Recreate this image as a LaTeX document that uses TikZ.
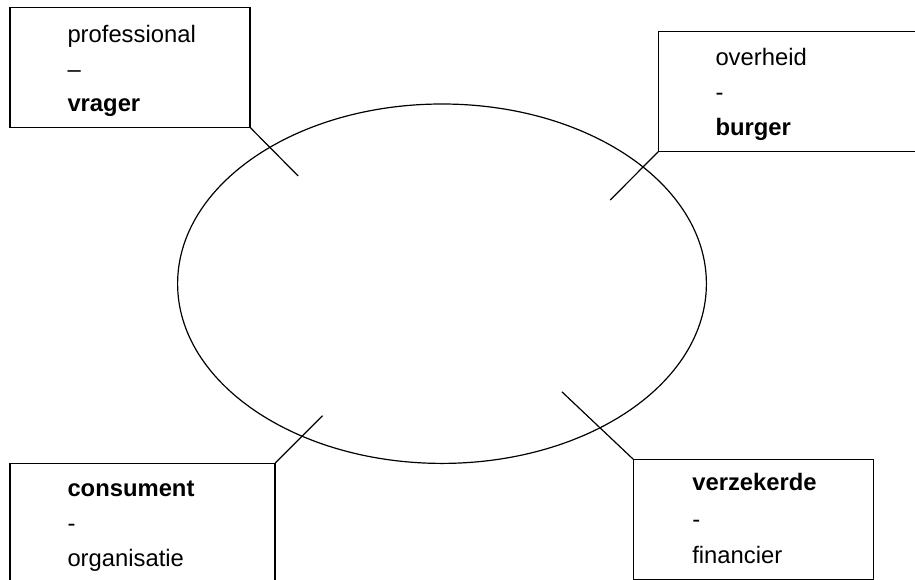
\documentclass[tikz,border=0pt]{standalone}
\usepackage{fontspec}
\setmainfont{Liberation Sans}
\usetikzlibrary{shapes.geometric}
\begin{document}
\begin{tikzpicture}[x=1pt,y=-1pt,
  line width=1.2pt,
  box/.style={draw=black, fill=none, inner sep=0pt, outer sep=0pt, anchor=north west},
  lbl/.style={inner sep=0pt, outer sep=0pt, anchor=base west, font=\fontsize{23.8pt}{35pt}\selectfont},
  blbl/.style={lbl, font=\fontsize{23.8pt}{35pt}\selectfont\bfseries}]
\useasboundingbox (0,0) rectangle (915,579);
\clip (0,0) rectangle (915,579);
\fill[white] (0,0) rectangle (915,579);

% central ellipse
\node[draw=black, ellipse, inner sep=0pt, outer sep=0pt,
      minimum width=528.8pt, minimum height=359.4pt] (c) at (442,283.7) {};

% boxes
\node[box, minimum width=240pt, minimum height=120pt] (b1) at (10,7.3) {};
\node[box, minimum width=272pt, minimum height=120pt] (b2) at (658.3,31.7) {};
\node[box, minimum width=265pt, minimum height=120pt] (b3) at (10,463.3) {};
\node[box, minimum width=240pt, minimum height=120pt] (b4) at (633.3,459.3) {};

% connector free ends
\coordinate (e1) at (298.2,176);
\coordinate (e2) at (610.2,200);
\coordinate (e3) at (322.5,415.7);
\coordinate (e4) at (561.8,391.7);

\draw (b1.south east) -- (e1);
\draw (b2.south west) -- (e2);
\draw (b3.north east) -- (e3);
\draw (b4.north west) -- (e4);

% texts
\node[lbl]  (t1a) at (67.5,42)  {professional};
\node[lbl]  (t1b) at (67.5,77)  {–};
\node[blbl] (t1c) at (67.5,111.7) {vrager};

\node[lbl]  (t2a) at (715.5,65)  {overheid};
\node[lbl]  (t2b) at (715.5,100) {-};
\node[blbl] (t2c) at (715.5,135) {burger};

\node[blbl] (t3a) at (67.5,496.7) {consument};
\node[lbl]  (t3b) at (67.5,531.7) {-};
\node[lbl]  (t3c) at (67.5,566.7) {organisatie};

\node[blbl] (t4a) at (692.3,490.7) {verzekerde};
\node[lbl]  (t4b) at (692.3,527)   {-};
\node[lbl]  (t4c) at (692.3,563)   {financier};
\end{tikzpicture}
\end{document}
